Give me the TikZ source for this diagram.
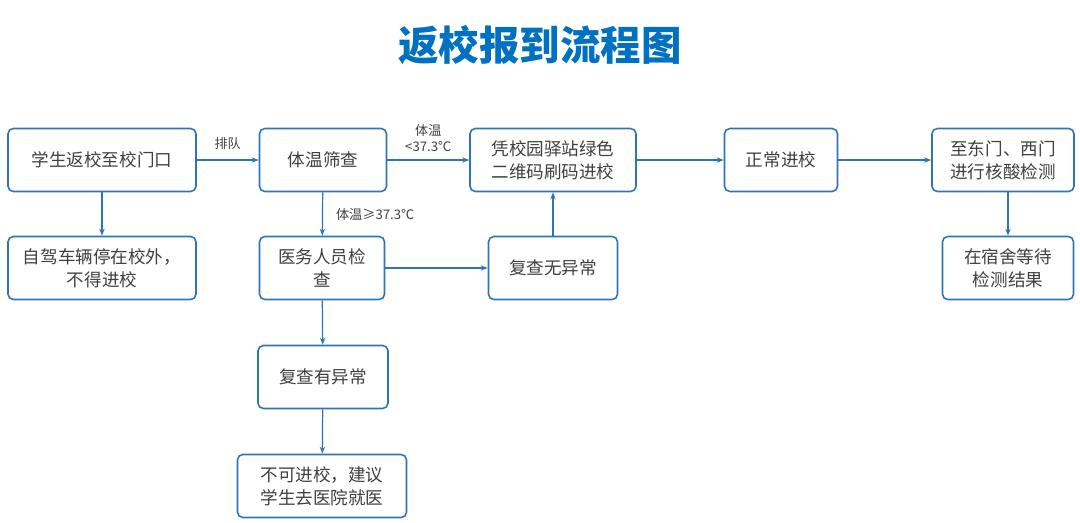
\documentclass[tikz,border=0pt]{standalone}
\usepackage{fontspec}
\setmainfont{Noto Sans CJK SC}
\definecolor{flowblue}{RGB}{46,117,182}
\definecolor{titleblue}{RGB}{0,112,192}
\definecolor{flowtext}{RGB}{64,64,64}
\usetikzlibrary{arrows.meta}

\begin{document}
\begin{tikzpicture}[x=0.02cm, y=-0.02cm,
    every node/.style={font=\fontsize{10}{13}\selectfont, text=flowtext},
    flowbox/.style={draw=flowblue, line width=0.9pt, rounded corners=3pt, fill=white, align=center, minimum height=1.26cm},
    flowarrow/.style={-{Stealth[length=4pt]}, draw=flowblue, line width=0.7pt},
    steplabel/.style={font=\fontsize{7.5}{9}\selectfont, align=center}]
    \useasboundingbox (0,0) rectangle (1080,522);
    % title
    \node[font=\fontsize{23}{26}\selectfont\bfseries, text=titleblue] (title) at (540,45) {返校报到流程图};

    % top row
    \node[flowbox, minimum width=3.76cm] (gate) at (102,160) {学生返校至校门口};
    \node[flowbox, minimum width=2.54cm] (temp) at (323,160) {体温筛查};
    \node[flowbox, minimum width=3.32cm] (code) at (553,160) {凭校园驿站绿色\\二维码刷码进校};
    \node[flowbox, minimum width=2.26cm] (enter) at (781,160) {正常进校};
    \node[flowbox, minimum width=2.84cm] (test) at (1003,160) {至东门、西门\\进行核酸检测};

    % second row
    \node[flowbox, minimum width=3.76cm] (car) at (102,268) {自驾车辆停在校外，\\不得进校};
    \node[flowbox, minimum width=2.5cm] (doctor) at (322,268) {医务人员检\\查};
    \node[flowbox, minimum width=2.58cm] (normal) at (553,268) {复查无异常};
    \node[flowbox, minimum width=2.62cm] (dorm) at (1008,268) {在宿舍等待\\检测结果};

    % lower rows
    \node[flowbox, minimum width=2.6cm] (abnormal) at (323,377) {复查有异常};
    \node[flowbox, minimum width=3.38cm] (hospital) at (322,486) {不可进校，建议\\学生去医院就医};

    % connectors
    \draw[flowarrow] (gate) -- node[steplabel, above=2pt] (queue) {排队} (temp);
    \draw[flowarrow] (temp) -- node[steplabel, above=1pt] (low) {体温\\<37.3℃} (code);
    \draw[flowarrow] (code) -- (enter);
    \draw[flowarrow] (enter) -- (test);
    \draw[flowarrow] (gate) -- (car);
    \draw[flowarrow] (temp) -- node[steplabel, right=4pt] (high) {体温≥37.3℃} (doctor);
    \draw[flowarrow] (doctor) -- (normal);
    \draw[flowarrow] (normal) -- (code);
    \draw[flowarrow] (doctor) -- (abnormal);
    \draw[flowarrow] (abnormal) -- (hospital);
    \draw[flowarrow] (test.south -| dorm) -- (dorm);
\end{tikzpicture}
\end{document}
